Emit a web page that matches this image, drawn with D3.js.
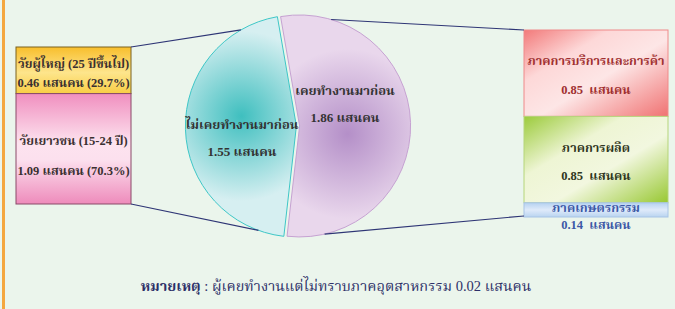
<!DOCTYPE html>
<html>
<head>
<meta charset="utf-8">
<script src="https://cdn.jsdelivr.net/npm/d3@7"></script>
<style>
  body { margin: 0; background: #ebf5ec; }
  svg { display: block; }
  text { font-family: "Liberation Serif", "Noto Serif Thai", "Noto Sans Thai", serif; font-weight: bold; }
</style>
</head>
<body>
<div id="chart-area"></div>
<script>
// data (แสนคน)
var pieLabels = ["ไม่เคยทำงานมาก่อน", "เคยทำงานมาก่อน"]
var pieValues = [1.55, 1.86]
var leftLabels = ["วัยผู้ใหญ่ (25 ปีขึ้นไป)", "วัยเยาวชน (15-24 ปี)"]
var leftValues = [0.46, 1.09]
var leftPct = [29.7, 70.3]
var rightLabels = ["ภาคการบริการและการค้า", "ภาคการผลิต", "ภาคเกษตรกรรม"]
var rightValues = [0.85, 0.85, 0.14]
var note = "ผู้เคยทำงานแต่ไม่ทราบภาคอุตสาหกรรม 0.02 แสนคน"

var width = 675
var height = 309
var svg = d3.select("#chart-area")
          .append("svg")
          .attr("width", width)
          .attr("height", height)

svg.append("rect").attr("width", width).attr("height", height).attr("fill", "#ebf5ec")
svg.append("line").attr("x1", 3.5).attr("x2", 3.5).attr("y1", 0).attr("y2", height)
   .attr("stroke", "#f4a73f").attr("stroke-width", 3)

var defs = svg.append("defs")
function linGrad(id, x2, y2, stops) {
    var gr = defs.append("linearGradient").attr("id", id)
        .attr("x1", 0).attr("y1", 0).attr("x2", x2).attr("y2", y2)
    stops.forEach(s => gr.append("stop").attr("offset", s[0]).attr("stop-color", s[1]))
}
linGrad("gGold", 0, 1, [[0, "#f8be2c"], [0.55, "#fde58c"], [1, "#f9cd45"]])
linGrad("gPink", 0, 1, [[0, "#f08fbf"], [0.45, "#fde3ef"], [0.6, "#fce0ee"], [1, "#ee8bbb"]])
linGrad("gRed", 1, 1, [[0, "#f27a7a"], [0.3, "#fdd8d8"], [0.55, "#fde6e6"], [1, "#f07272"]])
linGrad("gGreen", 1, 1, [[0, "#9ccb3c"], [0.35, "#eef5d4"], [0.6, "#f2f7df"], [1, "#98c832"]])
linGrad("gBlue", 0, 1, [[0, "#b6d2f0"], [0.5, "#dfeafa"], [1, "#b9d4f0"]])

// pie
var cx = 298, cy = 126, r = 111
var pie = d3.pie().sort(null)
    .startAngle(186.5 * Math.PI / 180)
    .endAngle((186.5 + 360) * Math.PI / 180)
var arcs = pie(pieValues)
var arc = d3.arc().innerRadius(0).outerRadius(r)
var pieFill = [["#3fbfbf", "#d6eff1", "#3ec7c7"], ["#b48fc8", "#e9d7ec", "#c6a2d2"]]
var gradCenters = [[-55, -10], [48, 8]]

arcs.forEach((d, i) => {
    var gr = defs.append("radialGradient").attr("id", "gPie" + i)
        .attr("gradientUnits", "userSpaceOnUse")
        .attr("cx", gradCenters[i][0]).attr("cy", gradCenters[i][1]).attr("r", 85)
    gr.append("stop").attr("offset", 0).attr("stop-color", pieFill[i][0])
    gr.append("stop").attr("offset", 1).attr("stop-color", pieFill[i][1])
})

var explode = 1.6
var pg = svg.append("g").attr("transform", `translate(${cx}, ${cy})`)
var slices = pg.selectAll("g.slice").data(arcs).enter().append("g")
    .attr("class", "slice")
    .attr("transform", d => {
        var m = (d.startAngle + d.endAngle) / 2
        var p = d3.pointRadial(m, explode)
        return `translate(${p[0]}, ${p[1]})`
    })
slices.append("path")
    .attr("d", arc)
    .attr("fill", (d, i) => `url(#gPie${i})`)
    .attr("stroke", (d, i) => pieFill[i][2])
    .attr("stroke-width", 1)

var pieText = [[[-56, 3], [-56, 30]], [[47, -31], [47, -4]]]
pieLabels.forEach((lab, i) => {
    pg.append("text").attr("x", pieText[i][0][0]).attr("y", pieText[i][0][1])
        .attr("text-anchor", "middle").attr("font-size", "13px").attr("fill", "#333")
        .text(lab)
    pg.append("text").attr("x", pieText[i][1][0]).attr("y", pieText[i][1][1])
        .attr("text-anchor", "middle").attr("font-size", "13px").attr("fill", "#333")
        .text(pieValues[i].toFixed(2) + " แสนคน")
})

// left stacked boxes
var yL = d3.scaleLinear().domain([0, d3.sum(leftValues)]).range([47, 204])
var leftX = 16, leftW = 115
var cumL = d3.cumsum([0].concat(leftValues))
var leftFill = ["url(#gGold)", "url(#gPink)"]
var leftStroke = ["#7a6320", "#8a4a68"]
var lg = svg.append("g")
lg.selectAll("rect").data(leftValues).enter().append("rect")
    .attr("x", leftX)
    .attr("y", (d, i) => yL(cumL[i]))
    .attr("width", leftW)
    .attr("height", d => yL(d) - yL(0))
    .attr("fill", (d, i) => leftFill[i])
    .attr("stroke", (d, i) => leftStroke[i])
    .attr("stroke-width", 1)
var leftOff = [[-6, 13], [-8, 22]]
leftLabels.forEach((lab, i) => {
    var mid = (yL(cumL[i]) + yL(cumL[i + 1])) / 2
    lg.append("text").attr("x", leftX + leftW / 2).attr("y", mid + leftOff[i][0] + 4)
        .attr("text-anchor", "middle").attr("font-size", "12.5px").attr("fill", "#3a3030")
        .text(lab)
    lg.append("text").attr("x", leftX + leftW / 2).attr("y", mid + leftOff[i][1] + 4)
        .attr("text-anchor", "middle").attr("font-size", "12.5px").attr("fill", "#3a3030")
        .text(leftValues[i].toFixed(2) + " แสนคน (" + leftPct[i].toFixed(1) + "%)")
})

// right stacked boxes
var yR = d3.scaleLinear().domain([0, d3.sum(rightValues)]).range([30, 217])
var rightX = 524, rightW = 144
var cumR = d3.cumsum([0].concat(rightValues))
var rightFill = ["url(#gRed)", "url(#gGreen)", "url(#gBlue)"]
var rightStroke = ["#f08a8a", "#b5d57a", "#a8c4e6"]
var rightColor = ["#a03030", "#2e3520", "#3b58a6"]
var rg = svg.append("g")
rg.selectAll("rect").data(rightValues).enter().append("rect")
    .attr("x", rightX)
    .attr("y", (d, i) => yR(cumR[i]))
    .attr("width", rightW)
    .attr("height", d => yR(d) - yR(0))
    .attr("fill", (d, i) => rightFill[i])
    .attr("stroke", (d, i) => rightStroke[i])
    .attr("stroke-width", 1)
var rightOff = [[-12, 17], [-12, 16], [-2, 15]]
rightLabels.forEach((lab, i) => {
    var mid = (yR(cumR[i]) + yR(cumR[i + 1])) / 2
    rg.append("text").attr("x", rightX + rightW / 2).attr("y", mid + rightOff[i][0] + 4)
        .attr("text-anchor", "middle").attr("font-size", "12.5px").attr("fill", rightColor[i])
        .text(lab)
    rg.append("text").attr("x", rightX + rightW / 2).attr("y", mid + rightOff[i][1] + 4)
        .attr("text-anchor", "middle").attr("font-size", "12.5px").attr("fill", rightColor[i])
        .attr("xml:space", "preserve")
        .text(rightValues[i].toFixed(2) + "  แสนคน")
})

// connector lines
var cyanMid = (arcs[0].startAngle + arcs[0].endAngle) / 2
var purpMid = (arcs[1].startAngle + arcs[1].endAngle) / 2
function piePt(deg, mid) {
    var p = d3.pointRadial(deg * Math.PI / 180, r)
    var o = d3.pointRadial(mid, explode)
    return [cx + p[0] + o[0], cy + p[1] + o[1]]
}
var links = [
    [[leftX + leftW, yL(0)], piePt(-30, cyanMid)],
    [[leftX + leftW, yL(d3.sum(leftValues))], piePt(200, cyanMid)],
    [piePt(16.5, purpMid), [rightX, yR(0)]],
    [piePt(167, purpMid), [rightX, yR(d3.sum(rightValues)) - 1]]
]
svg.append("g").selectAll("line").data(links).enter().append("line")
    .attr("x1", d => d[0][0]).attr("y1", d => d[0][1])
    .attr("x2", d => d[1][0]).attr("y2", d => d[1][1])
    .attr("stroke", "#2e3575").attr("stroke-width", 1.2)

// note
var nt = svg.append("text").attr("x", 336).attr("y", 291)
    .attr("text-anchor", "middle").attr("font-size", "14.5px").attr("fill", "#2d3068")
nt.append("tspan").text("หมายเหตุ")
nt.append("tspan").attr("font-weight", "normal").text(" : " + note)
</script>
</body>
</html>
